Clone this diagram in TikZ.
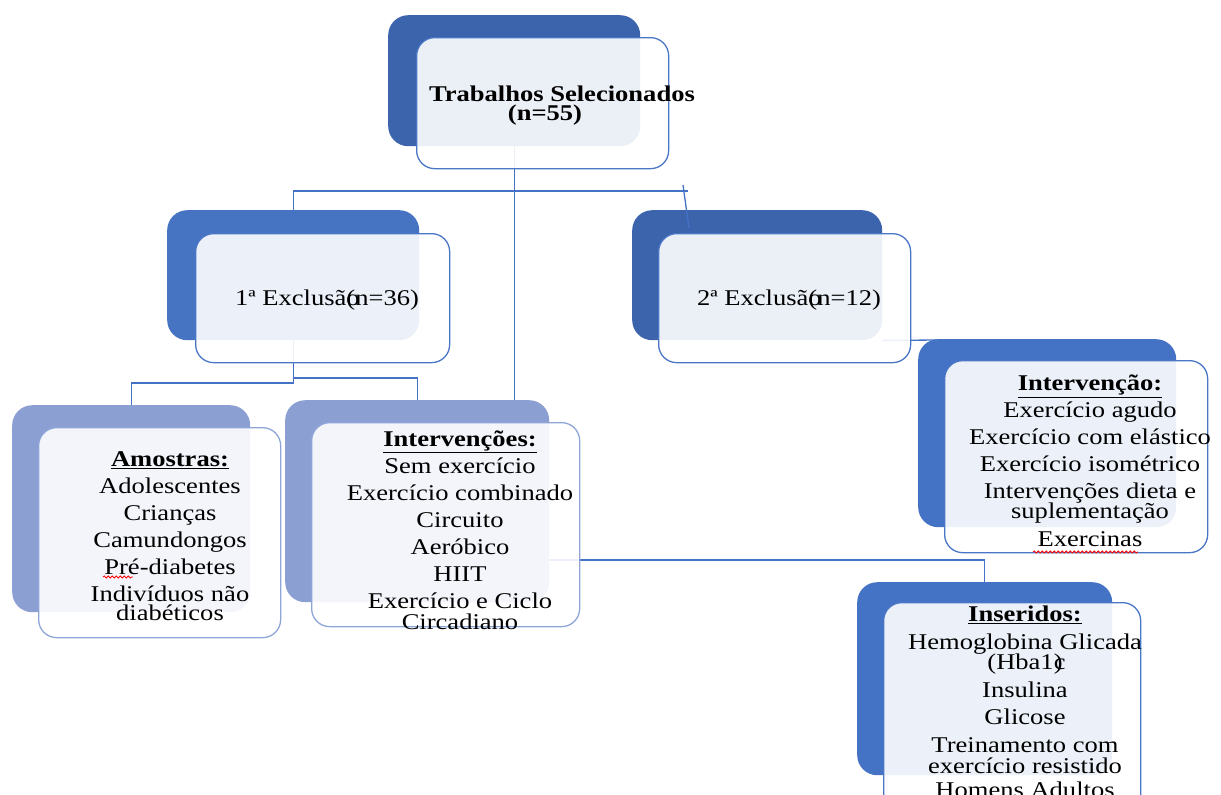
\documentclass[tikz,border=0pt]{standalone}
\usepackage{fontspec}
\setmainfont{Liberation Serif}[FakeStretch=1.18]
\usetikzlibrary{decorations.pathmorphing}
\definecolor{lineblue}{HTML}{4472C4}
\definecolor{topblue}{HTML}{3B64AD}
\definecolor{midblue}{HTML}{4674C3}
\definecolor{lavender}{HTML}{8C9FD2}
\definecolor{frontedge}{HTML}{4A76C6}
\definecolor{frontedgelight}{HTML}{8EA5D8}
\begin{document}
\begin{tikzpicture}[x=1pt,y=-1pt,
  backbox/.style={rectangle, rounded corners=20pt, inner sep=0pt, anchor=north west, draw=none},
  frontbox/.style={rectangle, rounded corners=18pt, inner sep=0pt, anchor=north west, draw=frontedge, line width=1.3pt, fill=white, fill opacity=0.9},
  conn/.style={draw=lineblue, line width=1.3pt},
  txt/.style={align=center, inner sep=0pt, font=\fontsize{22.5}{27}\selectfont},
  squiggle/.style={draw=red, line width=0.8pt, decorate, decoration={snake, amplitude=1pt, segment length=4pt}}]
\useasboundingbox (0,0) rectangle (1221,795);
\clip (0,0) rectangle (1221,795);
% back boxes
\node[backbox, fill=topblue, minimum width=252pt, minimum height=131pt] (tb) at (388,15) {};
\node[backbox, fill=midblue, minimum width=252pt, minimum height=130pt] (b1) at (167,210) {};
\node[backbox, fill=topblue, minimum width=250pt, minimum height=130pt] (b2) at (632,210) {};
\node[backbox, fill=lavender, minimum width=238pt, minimum height=207pt] (amb) at (12,405) {};
\node[backbox, fill=lavender, minimum width=264pt, minimum height=202pt] (ivb) at (285,400) {};
\node[backbox, fill=lineblue, minimum width=258pt, minimum height=188pt] (ibb) at (918,339) {};
\node[backbox, fill=lineblue, minimum width=255pt, minimum height=193pt] (insb) at (857,582) {};
% connectors
\coordinate (hleft) at (b1.north |- 0,191);
\coordinate (hright) at (688,191);
\coordinate (tickA) at (683,185);
\coordinate (tickB) at (689,228);
\draw[conn] (tb.south) -- (tb.south |- ivb.north);
\draw[conn] (b1.north) -- (hleft) -- (hright);
\draw[conn] (tickA) -- (tickB);
\draw[conn] (b1.south) -- (b1.south |- 0,383) -| (amb.north);
\draw[conn] (b1.south |- 0,378) -| (ivb.north);
\draw[conn] (ivb.east |- 0,560) -| (insb.north);
\coordinate (ibjoin) at (940,340);
\draw[conn] (b2.south east) -- (ibjoin);
% front boxes
\node[frontbox, minimum width=252pt, minimum height=131pt] (tf) at (416,37) {};
\node[frontbox, minimum width=254pt, minimum height=129pt] (f1) at (195,233) {};
\node[frontbox, minimum width=252pt, minimum height=129pt] (f2) at (658,233) {};
\node[frontbox, draw=frontedgelight, minimum width=242pt, minimum height=210pt] (amf) at (38,427) {};
\node[frontbox, draw=frontedgelight, minimum width=268pt, minimum height=204pt] (ivf) at (311,422) {};
\node[frontbox, minimum width=263pt, minimum height=192pt] (ibf) at (944,360) {};
\node[frontbox, minimum width=257pt, minimum height=230pt] (insf) at (883,602) {};
% texts
\node[txt] (ttop) at (562,106) {\textbf{Trabalhos Selecionados}\\[-8pt]\textbf{(n=55)}\kern34pt};
\node[txt] (t1) at (327,300) {1ª Exclusã\rlap{o}(n=36)};
\node[txt] (t2) at (789,300) {2ª Exclusã\rlap{o}(n=12)};
\node[txt] (tam) at (170,536) {\underline{\textbf{Amostras:}}\\ Adolescentes\\ Crianças\\ Camundongos\\ Pré-diabetes\\ Indivíduos não\\[-8pt] diabéticos};
\node[txt] (tiv) at (460,530) {\underline{\textbf{Intervenções:}}\\ Sem exercício\\ Exercício combinado\\ Circuito\\ Aeróbico\\ HIIT\\ Exercício e Ciclo\\[-6pt] Circadiano};
\node[txt] (tib) at (1090,461) {\underline{\textbf{Intervenção:}}\\ Exercício agudo\\ Exercício com elástico\\ Exercício isométrico\\ Intervenções dieta e\\[-7pt] suplementação\\[1pt] Exercinas};
\node[txt] (tins) at (1025,702) {\underline{\textbf{Inseridos:}}\\[1pt] Hemoglobina Glicada\\[-7pt] (Hba1\rlap{c})\\[1pt] Insulina\\ Glicose\\[1pt] Treinamento com\\[-6pt] exercício resistido\\[-3pt] Homens Adultos};
% spell-check marks
\draw[squiggle] (103,577) -- (133,577);
\draw[squiggle] (1033,552) -- (1138,552);
\end{tikzpicture}
\end{document}
